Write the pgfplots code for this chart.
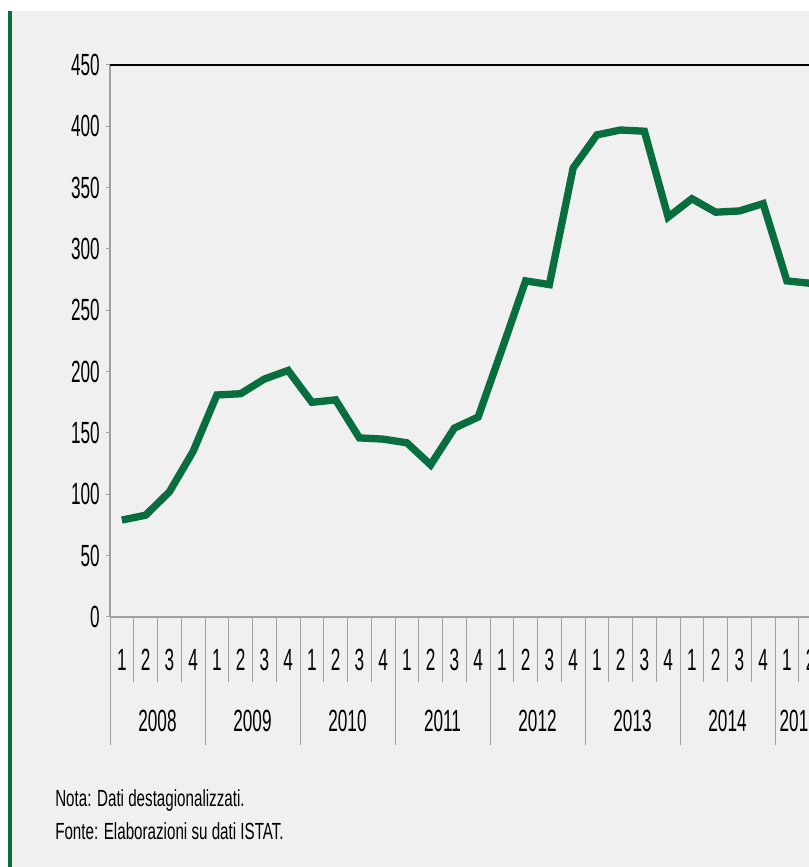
\documentclass[border=0pt]{standalone}
\usepackage{pgfplots}
\pgfplotsset{compat=1.18}
\usepackage{fontspec}
\setmainfont[FakeStretch=0.56]{Liberation Sans}
\newfontfamily\notefont[FakeStretch=0.65]{Liberation Sans}
\definecolor{bg}{HTML}{F0F0F0}
\definecolor{grn}{RGB}{8,110,62}
\definecolor{axgray}{HTML}{A0A0A0}
\pgfplotstableread{
x y
0.5 79
1.5 83
2.5 102
3.5 135
4.5 181
5.5 182
6.5 194
7.5 201
8.5 175
9.5 177
10.5 146
11.5 145
12.5 142
13.5 124
14.5 154
15.5 163
16.5 218
17.5 274
18.5 271
19.5 366
20.5 393
21.5 397
22.5 396
23.5 326
24.5 341
25.5 330
26.5 331
27.5 337
28.5 274
29.5 272
}\datatable
\begin{document}
\begin{tikzpicture}[x=0.75pt,y=0.75pt]
\useasboundingbox (0,0) rectangle (809,867);
\fill[white] (0,0) rectangle (809,867);
\clip (0,0) rectangle (809,867);
\fill[bg] (12,0) rectangle (809,856);
\fill[grn] (8,0) rectangle (12,856);
\begin{axis}[
  at={(82.5pt,187.5pt)}, anchor=south west, scale only axis,
  width=570pt, height=414pt,
  xmin=0, xmax=32, ymin=0, ymax=450,
  clip=false,
  axis y line*=left, axis x line*=bottom,
  axis line style={axgray, line width=0.9pt},
  /pgf/number format/assume math mode=true,
  ytick={0,50,...,450},
  tick align=outside,
  major tick length=3pt,
  ytick style={axgray, line width=0.75pt},
  yticklabel style={font=\fontsize{23}{27}\selectfont, inner sep=0pt, anchor=east, xshift=-4.5pt},
  xtick={0.5,1.5,...,29.5},
  xticklabels={1,2,3,4,1,2,3,4,1,2,3,4,1,2,3,4,1,2,3,4,1,2,3,4,1,2,3,4,1,2},
  xtick style={draw=none},
  xticklabel style={font=\fontsize{23}{27}\selectfont, inner sep=0pt, anchor=center, yshift=-29pt},
  extra x ticks={2,6,10,14,18,22,26,29},
  extra x tick labels={2008,2009,2010,2011,2012,2013,2014,2015},
  extra x tick style={tick style={draw=none}, ticklabel style={yshift=-46pt}},
]
\draw[black, line width=1.5pt] (axis cs:0,450) -- (axis cs:32,450);
\pgfplotsinvokeforeach{1,2,3,5,6,7,9,10,11,13,14,15,17,18,19,21,22,23,25,26,27,29}{
  \draw[axgray, line width=0.75pt] (axis cs:#1,0) -- ([yshift=-48.75pt]axis cs:#1,0);
}
\pgfplotsinvokeforeach{0,4,8,12,16,20,24,28,30}{
  \draw[axgray, line width=0.75pt] (axis cs:#1,0) -- ([yshift=-96pt]axis cs:#1,0);
}
\addplot[grn, line width=5.5pt, mark=none] table[x=x,y=y] {\datatable};
\end{axis}
\node[anchor=base west, inner sep=0pt, font=\notefont\fontsize{17.5}{21}\selectfont] at (55,60.3) {Nota: Dati destagionalizzati.};
\node[anchor=base west, inner sep=0pt, font=\notefont\fontsize{17.5}{21}\selectfont] at (55,27.7) {Fonte: Elaborazioni su dati ISTAT.};
\end{tikzpicture}
\end{document}
